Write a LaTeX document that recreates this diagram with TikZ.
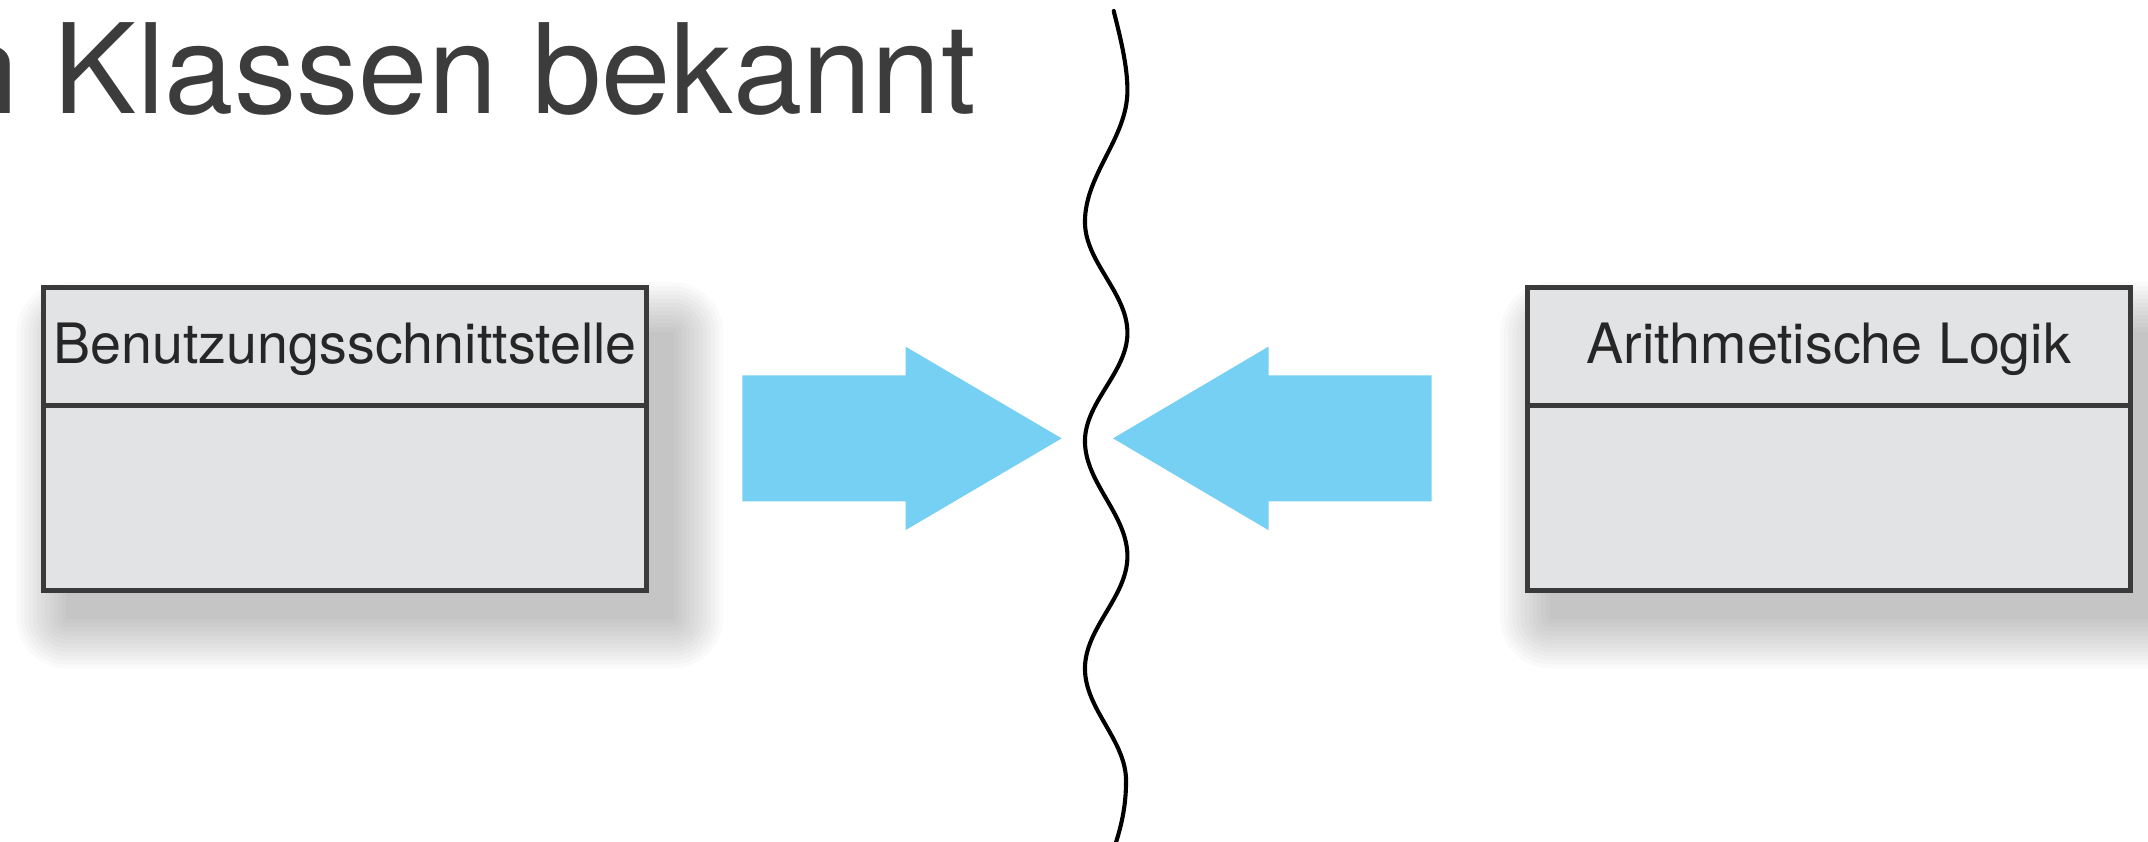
\documentclass[tikz,border=0pt]{standalone}
\usepackage{fontspec}
\setmainfont{TeX Gyre Heros}

\definecolor{arrowblue}{RGB}{118,208,244}
\definecolor{boxgray}{RGB}{226,227,229}
\definecolor{edgegray}{RGB}{58,58,58}
\definecolor{inkgray}{RGB}{60,60,60}

% soft drop shadow: stacked translucent rectangles around a core rectangle
\newcommand\softshadow[4]{%
  \foreach \e in {0,3,...,36}{%
    \pgfmathsetmacro\rc{0.1*\e+0.1}%
    \fill[black, fill opacity=0.02, rounded corners=\rc mm]
      (#1-\e,#2-\e) rectangle (#3+\e,#4+\e);
  }}

\begin{document}
\begin{tikzpicture}[x=0.1mm, y=-0.1mm,
  classbox/.style={draw=edgegray, line width=0.38mm, fill=boxgray,
    minimum width=44mm, minimum height=22.1mm, inner sep=0pt, outer sep=0pt},
  divider/.style={draw=edgegray, line width=0.38mm},
  classname/.style={font=\fontsize{11.55}{13}\selectfont, text=black!85,
    inner sep=0pt, anchor=base},
  headline/.style={font=\fontsize{25.9}{30}\selectfont, text=inkgray,
    inner sep=0pt, anchor=base east},
  bigarrow/.style={fill=arrowblue, draw=none},
  wave/.style={draw=black, line width=0.3mm, line cap=round}]

\useasboundingbox (0,0) rectangle (1568,614);
\clip (0,0) rectangle (1568,614);

% heading line
\node[headline] (title) at (713,82.5) {n Klassen bekannt};

% shadows under the two class boxes
\softshadow{48}{242}{492}{452}
\softshadow{1131}{242}{1575}{452}

% class boxes
\node[classbox] (ui) at (252,320.5) {};
\draw[divider] ([yshift=-8.6mm]ui.north west) -- ([yshift=-8.6mm]ui.north east);
\node[classname] (uiname) at ([yshift=-5.5mm]ui.north) {Benutzungsschnittstelle};

\node[classbox] (alu) at (1335,320.5) {};
\draw[divider] ([yshift=-8.6mm]alu.north west) -- ([yshift=-8.6mm]alu.north east);
\node[classname] (aluname) at ([yshift=-5.5mm]alu.north) {Arithmetische Logik};

% two block arrows pointing at the boundary
\fill[bigarrow] (542,274) -- (661,274) -- (661,253) -- (775,320)
  -- (661,387) -- (661,366) -- (542,366) -- cycle;
\fill[bigarrow] (1045,274) -- (926,274) -- (926,253) -- (812.5,320)
  -- (926,387) -- (926,366) -- (1045,366) -- cycle;

% wavy boundary line
\draw[wave] (813,8) .. controls (818,28) and (823,48) .. (823,66)
  .. controls (823,100.9) and (792,127.1) .. (792,162)
  .. controls (792,191.4) and (823,213.6) .. (823,243)
  .. controls (823,271.7) and (792,293.3) .. (792,322)
  .. controls (792,352.5) and (823,375.5) .. (823,406)
  .. controls (823,435.8) and (792,458.2) .. (792,488)
  .. controls (792,517.8) and (822,540.2) .. (822,570)
  .. controls (822,590) and (818,605) .. (813,620);
\end{tikzpicture}
\end{document}
